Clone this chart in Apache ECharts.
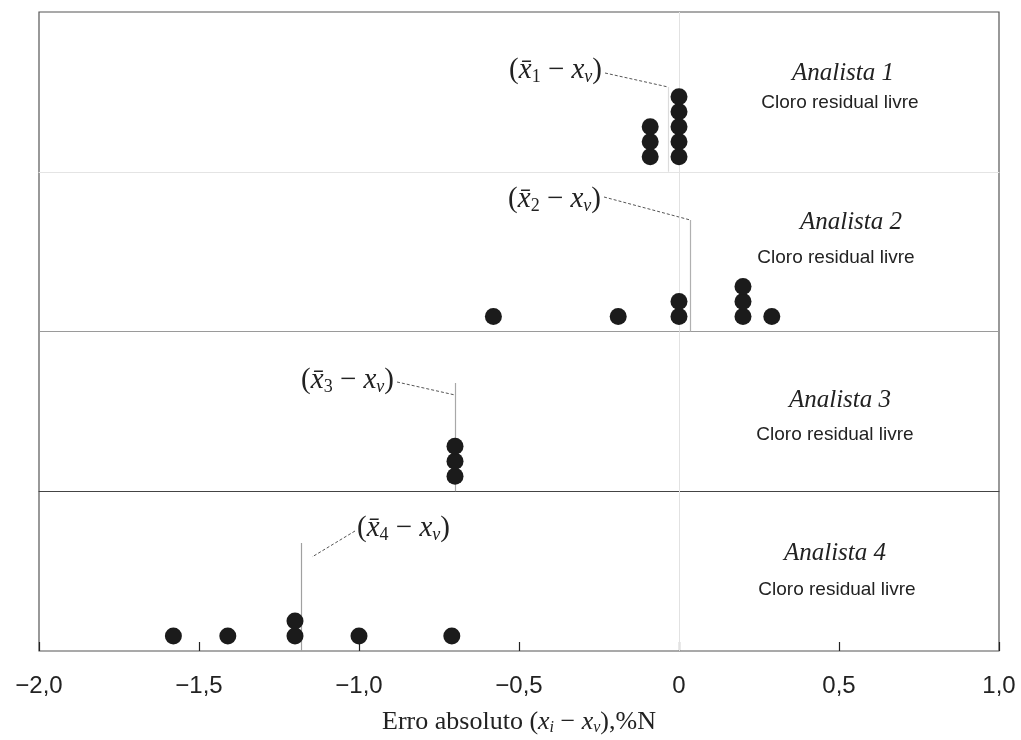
<!DOCTYPE html>
<html><head><meta charset="utf-8">
<script src="https://cdn.jsdelivr.net/npm/echarts@6/dist/echarts.min.js"></script>
<style>html,body{margin:0;padding:0;background:#fff}#c{width:1021px;height:740px}</style>
</head><body><div id="c"></div>
<script>
// ---------- data ----------
const analysts = ['Analista 1', 'Analista 2', 'Analista 3', 'Analista 4'];
const subtitle = 'Cloro residual livre';
const errors1 = [-0.09, -0.09, -0.09, 0, 0, 0, 0, 0];
const errors2 = [-0.58, -0.19, 0, 0, 0.2, 0.2, 0.2, 0.29];
const errors3 = [-0.7, -0.7, -0.7];
const errors4 = [-1.58, -1.41, -1.2, -1.2, -1.0, -0.71];
const meanErrors = [-0.034, 0.035, -0.70, -1.18];
const meanLabels = ['1', '2', '3', '4'];
const xMin = -2, xMax = 1, xStep = 0.5;

// ---------- layout ----------
const L = 39, R = 999, T = 12, B = 651;
const panelH = (B - T) / 4;
const stepPx = 15;               // vertical spacing of stacked dots
const yMax = panelH / stepPx;
const pxPerUnit = (R - L) / (xMax - xMin);
const px2x = px => (px - L) / pxPerUnit + xMin;
const py2y = (i, py) => (T + (i + 1) * panelH - py) / stepPx;

const allErrors = [errors1, errors2, errors3, errors4];
function stacked(arr) {
  const seen = {};
  return arr.map(v => { const k = String(v); seen[k] = (seen[k] || 0) + 1; return [v, seen[k]]; });
}

// annotation layout per panel (pixels)
const ann = [
  { lx: 602, ly: 70, align: 'right', sx: 605, sy: 73, ey: 87, ex: null, vTop: 87 },
  { lx: 601, ly: 199, align: 'right', sx: 604, sy: 197, ey: 220, ex: null, vTop: 220 },
  { lx: 394, ly: 380, align: 'right', sx: 397, sy: 382, ey: 395, ex: null, vTop: 383 },
  { lx: 357, ly: 528, align: 'left', sx: 355, sy: 531, ey: 557, ex: 312, vTop: 543 }
];
const titlePos = [
  { ax: 843, ay: 73, cx: 840, cy: 103 },
  { ax: 851, ay: 222, cx: 836, cy: 258 },
  { ax: 840, ay: 400, cx: 835, cy: 435 },
  { ax: 835, ay: 553, cx: 837, cy: 590 }
];
const meanLineColors = ['#dcdcdc', '#b0b0b0', '#a8a8a8', '#a0a0a0'];
const sepColors = ['#e4e4e4', '#9a9a9a', '#444444', null];

const serif = 'Liberation Serif';
const sans = 'Liberation Sans';

const grids = [], xAxes = [], yAxes = [], series = [], graphics = [];
for (let i = 0; i < 4; i++) {
  grids.push({ left: L, width: R - L, top: T + i * panelH, height: panelH, containLabel: false });
  const last = i === 3;
  xAxes.push({
    gridIndex: i, type: 'value', min: xMin, max: xMax, interval: xStep,
    axisLine: { show: !!sepColors[i], onZero: false, lineStyle: { color: sepColors[i] || '#000', width: 1 } },
    axisTick: { show: last, inside: true, length: 9, lineStyle: { color: '#222', width: 1.2 } },
    splitLine: { show: false },
    axisLabel: {
      show: last, margin: 23, color: '#222', fontFamily: sans, fontSize: 24,
      formatter: v => v === 0 ? '0' : (v < 0 ? '\u2212' : '') + Math.abs(v).toFixed(1).replace('.', ',')
    },
    name: last ? '{n|Erro absoluto (}{x|x}{s|i}{n| \u2212 }{x|x}{s|v}{n|),%N}' : '',
    nameLocation: 'middle', nameGap: 57,
    nameTextStyle: {
      rich: {
        n: { fontFamily: serif, fontSize: 26, color: '#222', lineHeight: 28, verticalAlign: 'middle' },
        x: { fontFamily: serif, fontStyle: 'italic', fontSize: 26, color: '#222', lineHeight: 28, verticalAlign: 'middle' },
        s: { fontFamily: serif, fontStyle: 'italic', fontSize: 16, color: '#222', lineHeight: 15, verticalAlign: 'bottom' }
      }
    }
  });
  yAxes.push({ gridIndex: i, type: 'value', min: 0, max: yMax, show: false });

  const a = ann[i];
  const m = meanErrors[i];
  const endX = a.ex === null ? m : px2x(a.ex);
  series.push({
    type: 'scatter', xAxisIndex: i, yAxisIndex: i,
    data: stacked(allErrors[i]),
    symbol: 'circle', symbolSize: 17,
    itemStyle: { color: '#1b1b1b', opacity: 1 },
    z: 5, silent: true, animation: false,
    markLine: {
      silent: true, symbol: 'none', animation: false, label: { show: false },
      data: [
        [{ coord: [m, py2y(i, a.vTop)], lineStyle: { color: meanLineColors[i], width: 1.2, type: 'solid' } },
         { coord: [m, 0] }],
        [{ coord: [px2x(a.sx), py2y(i, a.sy)], lineStyle: { color: '#555', width: 1, type: [3, 2] } },
         { coord: [endX, py2y(i, a.ey)] }]
      ]
    }
  });

  graphics.push({
    type: 'text', x: a.lx, y: a.ly, z: 10,
    style: {
      text: '{p|(}{x|x\u0304}{n|' + meanLabels[i] + '}{p| \u2212 }{x|x}{s|\u03bd}{p|)}',
      align: a.align, verticalAlign: 'middle',
      rich: {
        p: { fontFamily: serif, fontSize: 29, fill: '#222', lineHeight: 32, verticalAlign: 'middle' },
        x: { fontFamily: serif, fontStyle: 'italic', fontSize: 29, fill: '#222', lineHeight: 32, verticalAlign: 'middle' },
        n: { fontFamily: serif, fontSize: 18, fill: '#222', lineHeight: 18, verticalAlign: 'bottom' },
        s: { fontFamily: serif, fontStyle: 'italic', fontSize: 18, fill: '#222', lineHeight: 18, verticalAlign: 'bottom' }
      }
    }
  });
  const tp = titlePos[i];
  graphics.push({
    type: 'text', x: tp.ax, y: tp.ay, z: 10,
    style: { text: analysts[i], align: 'center', verticalAlign: 'middle', fontFamily: serif, fontStyle: 'italic', fontSize: 25, fill: '#222' }
  });
  graphics.push({
    type: 'text', x: tp.cx, y: tp.cy, z: 10,
    style: { text: subtitle, align: 'center', verticalAlign: 'middle', fontFamily: sans, fontSize: 19, fill: '#222' }
  });
}

// frame grid (outer border and zero reference line)
grids.push({ left: L, width: R - L, top: T, height: B - T, show: true, borderColor: '#555', borderWidth: 1.2, backgroundColor: 'transparent' });
xAxes.push({ gridIndex: 4, type: 'value', min: xMin, max: xMax, show: false });
yAxes.push({ gridIndex: 4, type: 'value', min: 0, max: 1, show: false });
series.push({
  type: 'scatter', xAxisIndex: 4, yAxisIndex: 4, data: [], silent: true, animation: false,
  markLine: {
    silent: true, symbol: 'none', animation: false, label: { show: false },
    lineStyle: { color: '#e2e2e2', width: 1, type: 'solid' },
    data: [[{ coord: [0, 1] }, { coord: [0, 0] }]]
  }
});

const chart = echarts.init(document.getElementById('c'), null, { renderer: 'canvas' });
chart.setOption({
  animation: false,
  backgroundColor: '#fff',
  grid: grids, xAxis: xAxes, yAxis: yAxes, series: series,
  graphic: graphics
});
</script></body></html>
